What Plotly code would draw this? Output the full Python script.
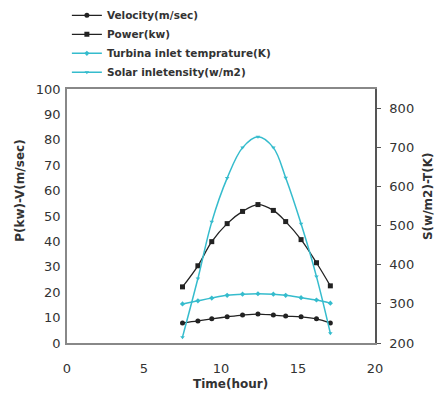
import plotly.graph_objects as go

time_h = [7.5, 8.5, 9.4, 10.4, 11.4, 12.4, 13.4, 14.2, 15.2, 16.2, 17.1]
velocity = [7.9, 8.7, 9.5, 10.3, 11.0, 11.4, 11.0, 10.6, 10.3, 9.5, 7.9]
power = [22.1, 30.4, 39.9, 47.0, 51.8, 54.5, 52.2, 47.8, 40.7, 31.6, 22.5]
turbine_temp = [300, 308, 315, 322, 325, 326, 325, 322, 316, 310, 302]
solar = [215, 365, 510, 622, 700, 728, 700, 623, 505, 370, 225]

x_ticks = [0, 5, 10, 15, 20]
left_ticks = [0, 10, 20, 30, 40, 50, 60, 70, 80, 90, 100]
right_ticks = [200, 300, 400, 500, 600, 700, 800]

black = "#222222"
cyan = "#35bccd"
font_family = "DejaVu Sans, Verdana, sans-serif"
txt = "#333333"

fig = go.Figure()
fig.add_trace(go.Scatter(x=time_h, y=velocity, name="<b>Velocity(m/sec)</b>", mode="lines+markers",
                         line=dict(color=black, width=1.3, shape="spline"),
                         marker=dict(symbol="circle", size=5, color=black)))
fig.add_trace(go.Scatter(x=time_h, y=power, name="<b>Power(kw)</b>", mode="lines+markers",
                         line=dict(color=black, width=1.3, shape="spline"),
                         marker=dict(symbol="square", size=5, color=black)))
fig.add_trace(go.Scatter(x=time_h, y=turbine_temp, name="<b>Turbina inlet temprature(K)</b>", mode="lines+markers",
                         line=dict(color=cyan, width=1.5, shape="spline"),
                         marker=dict(symbol="diamond", size=4, color=cyan), yaxis="y2"))
fig.add_trace(go.Scatter(x=time_h, y=solar, name="<b>Solar inletensity(w/m2)</b>", mode="lines+markers",
                         line=dict(color=cyan, width=1.5, shape="spline"),
                         marker=dict(symbol="triangle-down", size=4, color=cyan), yaxis="y2"))

fig.update_layout(
    width=440, height=397,
    margin=dict(l=67, r=65, t=89, b=54, autoexpand=False),
    paper_bgcolor="white", plot_bgcolor="white",
    font=dict(family=font_family, size=12, color=txt),
    showlegend=True,
    legend=dict(xref="container", yref="container", x=0.152, y=0.998, xanchor="left", yanchor="top",
                bgcolor="rgba(0,0,0,0)", font=dict(size=10.5, color=txt),
                itemwidth=30, tracegroupgap=0),
    xaxis=dict(range=[0, 20], tickvals=x_ticks, showgrid=False, zeroline=False, automargin=False,
               showline=True, linecolor="#888888", linewidth=1.5, mirror=True,
               ticks="", ticklabelstandoff=13, tickfont=dict(size=13, color=txt),
               tickprefix="<b>", ticksuffix="</b>"),
    yaxis=dict(range=[0, 100], tickvals=left_ticks, showgrid=False, zeroline=False, automargin=False,
               showline=True, linecolor="#888888", linewidth=1.5, mirror=True,
               ticks="", ticklabelstandoff=2, tickfont=dict(size=13, color=txt),
               tickprefix="<b>", ticksuffix="</b>"),
    yaxis2=dict(range=[200, 850], tickvals=right_ticks, overlaying="y", side="right", automargin=False,
                showgrid=False, zeroline=False, showline=True, linecolor="#555555", linewidth=1.5,
                ticks="outside", ticklen=4, tickcolor="#555555", ticklabelstandoff=6,
                tickfont=dict(size=13, color=txt), tickprefix="<b>", ticksuffix="</b>"),
    annotations=[
        dict(text="<b>Time(hour)</b>", xref="paper", yref="paper", x=0.53, y=-0.16,
             xanchor="center", yanchor="middle", showarrow=False, font=dict(size=12, color=txt)),
        dict(text="<b>P(kw)-V(m/sec)</b>", xref="paper", yref="paper", x=-0.155, y=0.6,
             xanchor="center", yanchor="middle", textangle=-90, showarrow=False,
             font=dict(size=12, color=txt)),
        dict(text="<b>S(w/m2)-T(K)</b>", xref="paper", yref="paper", x=1.17, y=0.58,
             xanchor="center", yanchor="middle", textangle=-90, showarrow=False,
             font=dict(size=12, color=txt)),
    ],
)

fig.write_html("out.html", config={"displayModeBar": False},
               post_script="document.body.style.margin='0';")
